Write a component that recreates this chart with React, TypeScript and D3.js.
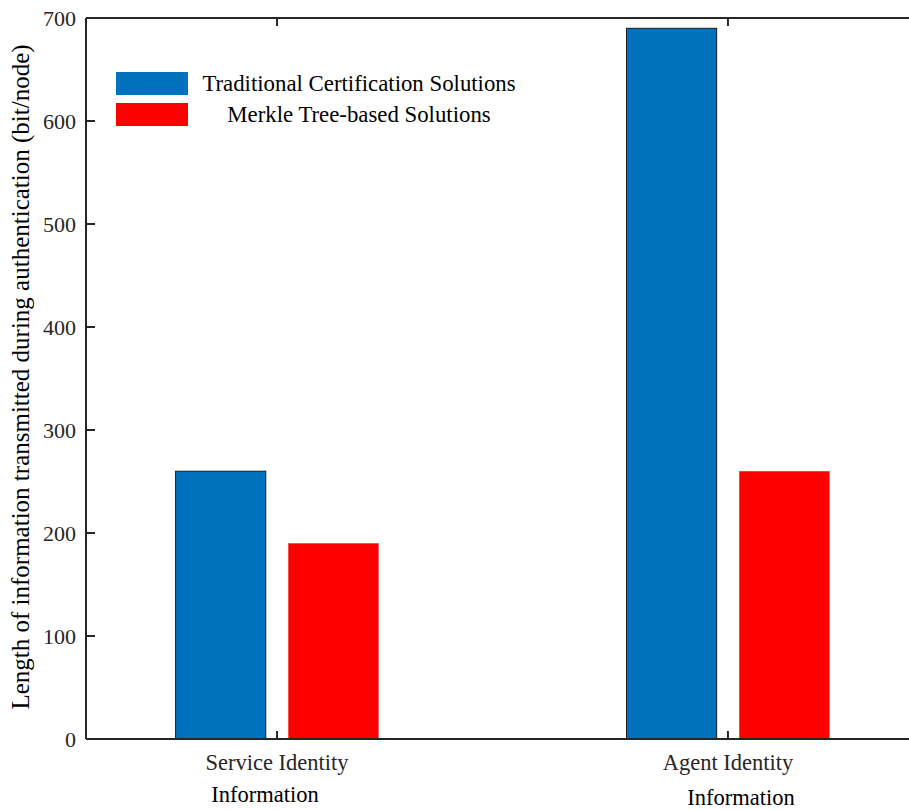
import React from "react";
import * as d3 from "d3";

const categories = ["Service Identity\nInformation", "Agent Identity\nInformation"];
const seriesNames = ["Traditional Certification Solutions", "Merkle Tree-based Solutions"];
const traditional = [260, 690];
const merkle = [190, 260];
const yTicks = [0, 100, 200, 300, 400, 500, 600, 700];
const colors = ["#0072BD", "#FF0000"];

const W = 909, H = 810;
const M = { left: 86, top: 18, right: 919, bottom: 739 };
const FONT = "'Liberation Serif', 'Times New Roman', serif";
const AX = "#262626";

export default function App() {
  const x = d3.scaleLinear().domain([0.5763, 2.4237]).range([M.left, M.right]);
  const y = d3.scaleLinear().domain([0, 700]).range([M.bottom, M.top]);
  const barW = 0.2;
  const off = 0.125;
  const series = [traditional, merkle];
  return (
    <div style={{ position: "fixed", left: 0, top: 0, width: W, height: H, overflow: "hidden", background: "#fff" }}>
      <svg width={W} height={H} style={{ display: "block" }}>
        <rect width={W} height={H} fill="#fff" />
        {series.map((vals, s) =>
          vals.map((v, i) => {
            const cx = x(i + 1) + (s === 0 ? -1 : 1) * (x(1 + off) - x(1));
            const w = x(1 + barW) - x(1);
            return (
              <rect
                key={`${s}-${i}`}
                x={cx - w / 2}
                y={y(v)}
                width={w}
                height={y(0) - y(v)}
                fill={colors[s]}
                stroke={s === 0 ? "#1a1a1a" : "#ff4d4d"}
                strokeWidth={s === 0 ? 1 : 0.5}
              />
            );
          })
        )}
        <line x1={M.left} x2={M.right} y1={M.bottom} y2={M.bottom} stroke={AX} strokeWidth={2} />
        <line x1={M.left} x2={M.right} y1={M.top} y2={M.top} stroke={AX} strokeWidth={2} />
        <line x1={M.left} x2={M.left} y1={M.top} y2={M.bottom} stroke={AX} strokeWidth={2} />
        {yTicks.map((t) => (
          <g key={t}>
            <line x1={M.left} x2={M.left + 9} y1={y(t)} y2={y(t)} stroke={AX} strokeWidth={2} />
            <text x={M.left - 10} y={y(t)} dy="0.35em" textAnchor="end" fontFamily={FONT} fontSize={22} fill={AX}>
              {t}
            </text>
          </g>
        ))}
        {categories.map((c, i) => {
          const lines = c.split("\n");
          const cx = x(i + 1);
          return (
            <g key={c}>
              <line x1={cx} x2={cx} y1={M.bottom} y2={M.bottom - 8} stroke={AX} strokeWidth={2} />
              <line x1={cx} x2={cx} y1={M.top} y2={M.top + 8} stroke={AX} strokeWidth={2} />
              <text x={cx} y={770} textAnchor="middle" fontFamily={FONT} fontSize={22.5} fill={AX}>
                {lines[0]}
              </text>
              <text x={cx + (i === 0 ? -12 : 13)} y={i === 0 ? 802 : 805} textAnchor="middle" fontFamily={FONT} fontSize={22.5} fill="#000">
                {lines[1]}
              </text>
            </g>
          );
        })}
        <text
          transform={`translate(29, 377) rotate(-90)`}
          textAnchor="middle"
          fontFamily={FONT}
          fontSize={25}
          fill="#000"
        >
          Length of information transmitted during authentication (bit/node)
        </text>
        {seriesNames.map((n, i) => (
          <g key={n}>
            <rect x={116} y={72 + i * 31} width={72} height={23} fill={colors[i]} />
            <text x={359} y={83.5 + i * 31} dy="0.35em" textAnchor="middle" fontFamily={FONT} fontSize={22.8} fill="#000">
              {n}
            </text>
          </g>
        ))}
      </svg>
    </div>
  );
}
